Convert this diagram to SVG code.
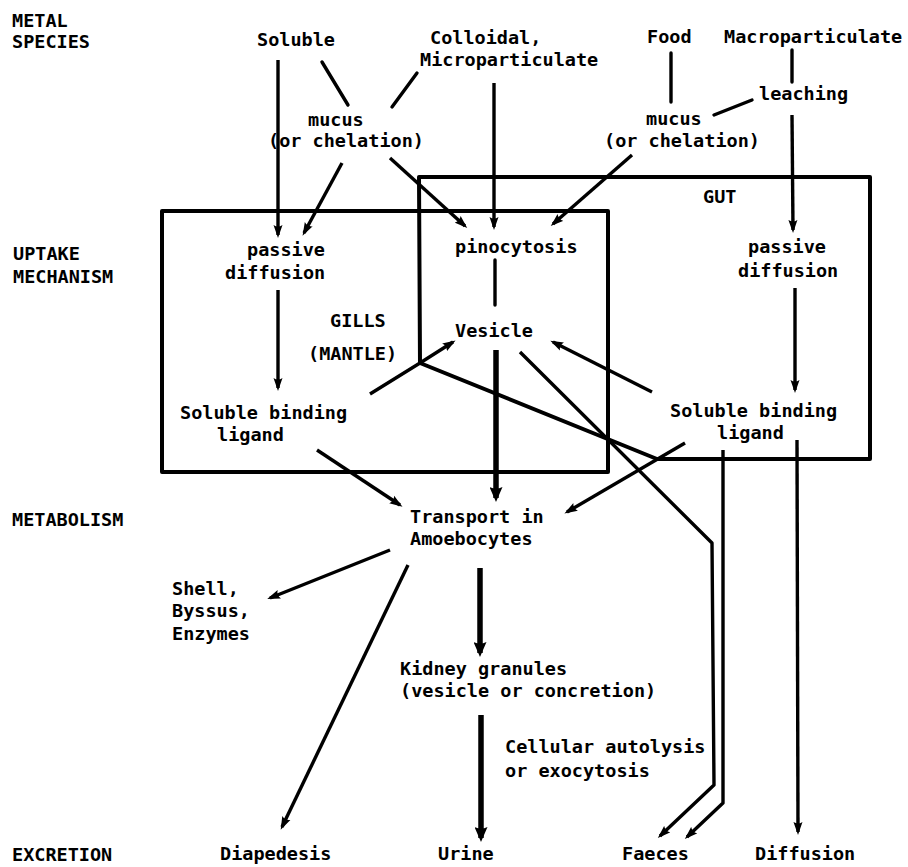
<svg xmlns="http://www.w3.org/2000/svg" width="908" height="867" viewBox="0 0 908 867">
<style>
text{font-family:"DejaVu Sans Mono","Liberation Mono",monospace;font-weight:bold;font-size:18.5px;fill:#000}
.ln{fill:none;stroke:#000;stroke-width:3.4;stroke-linecap:round;stroke-linejoin:round}
.ar{fill:none;stroke:#000;stroke-width:3.4;stroke-linecap:butt;stroke-linejoin:round;marker-end:url(#ah)}
.tk{fill:none;stroke:#000;stroke-width:5.5;stroke-linecap:butt;marker-end:url(#ahb)}
.box{fill:none;stroke:#000;stroke-width:4;stroke-linejoin:round}
</style>
<defs>
<marker id="ah" markerUnits="userSpaceOnUse" markerWidth="13" markerHeight="10" viewBox="0 0 13 10" refX="10" refY="5" orient="auto">
<path d="M0,0.5 L13,5 L0,9.5 Q3,5 0,0.5 z" fill="#000"/>
</marker>
<marker id="ahb" markerUnits="userSpaceOnUse" markerWidth="15" markerHeight="13" viewBox="0 0 15 13" refX="11" refY="6.5" orient="auto">
<path d="M0,0 L15,6.5 L0,13 Q3,6.5 0,0 z" fill="#000"/>
</marker>
</defs>
<rect width="908" height="867" fill="#fff"/>

<g id="row-labels">
<text x="12" y="27">METAL</text>
<text x="12" y="48">SPECIES</text>
<text x="13" y="260">UPTAKE</text>
<text x="13" y="283">MECHANISM</text>
<text x="12" y="526">METABOLISM</text>
<text x="12" y="861">EXCRETION</text>
</g>

<g id="box-gills">
<rect class="box" x="162" y="211" width="446" height="261"/>
<text x="330" y="327">GILLS</text>
<text x="308" y="360">(MANTLE)</text>
</g>
<g id="box-gut">
<path class="box" d="M420,363 L419,177 L870,177 L870,459 L657,459 Z"/>
<text x="703" y="203">GUT</text>
</g>

<g id="n-soluble"><text x="257" y="46">Soluble</text></g>
<g id="n-colloidal"><text x="430" y="44">Colloidal,</text><text x="420" y="66">Microparticulate</text></g>
<g id="n-food"><text x="647" y="43">Food</text></g>
<g id="n-macro"><text x="724" y="43">Macroparticulate</text></g>
<g id="n-mucus1"><text x="308" y="126">mucus</text><text x="268" y="147">(or chelation)</text></g>
<g id="n-leaching"><text x="759" y="100">leaching</text></g>
<g id="n-mucus2"><text x="646" y="125">mucus</text><text x="604" y="147">(or chelation)</text></g>
<g id="n-passive1"><text x="247" y="256">passive</text><text x="225" y="279">diffusion</text></g>
<g id="n-pinocytosis"><text x="455" y="253">pinocytosis</text></g>
<g id="n-passive2"><text x="748" y="253">passive</text><text x="738" y="277">diffusion</text></g>
<g id="n-vesicle"><text x="455" y="337">Vesicle</text></g>
<g id="n-ligand1"><text x="180" y="419">Soluble binding</text><text x="217" y="441">ligand</text></g>
<g id="n-ligand2"><text x="670" y="417">Soluble binding</text><text x="717" y="439">ligand</text></g>
<g id="n-transport"><text x="410" y="523">Transport in</text><text x="410" y="545">Amoebocytes</text></g>
<g id="n-shell"><text x="172" y="595">Shell,</text><text x="172" y="617">Byssus,</text><text x="172" y="640">Enzymes</text></g>
<g id="n-kidney"><text x="400" y="675">Kidney granules</text><text x="400" y="697">(vesicle or concretion)</text></g>
<g id="n-autolysis"><text x="505" y="753">Cellular autolysis</text><text x="505" y="777">or exocytosis</text></g>
<g id="n-diapedesis"><text x="220" y="860">Diapedesis</text></g>
<g id="n-urine"><text x="438" y="860">Urine</text></g>
<g id="n-faeces"><text x="622" y="860">Faeces</text></g>
<g id="n-diffusion"><text x="755" y="860">Diffusion</text></g>

<g id="connectors">
<line class="ar" x1="278" y1="60" x2="278" y2="235"/>
<line class="ln" x1="322" y1="62" x2="348" y2="105"/>
<line class="ln" x1="417" y1="73" x2="392" y2="107"/>
<line class="ar" x1="342" y1="163" x2="304" y2="233"/>
<line class="ar" x1="390" y1="158" x2="465" y2="226"/>
<line class="ar" x1="494" y1="83" x2="494" y2="227"/>
<line class="ln" x1="671" y1="53" x2="671" y2="102"/>
<line class="ln" x1="792" y1="50" x2="792" y2="82"/>
<line class="ln" x1="714" y1="115" x2="752" y2="100"/>
<line class="ar" x1="632" y1="155" x2="553" y2="224"/>
<line class="ar" x1="792" y1="115" x2="793" y2="230"/>
<line class="ar" x1="278" y1="290" x2="278" y2="388"/>
<line class="ln" x1="495" y1="260" x2="495" y2="305"/>
<line class="ar" x1="795" y1="288" x2="795" y2="390"/>
<polyline class="ar" points="370,394 420,363 453,342"/>
<polyline class="ar" points="520,352 712,543 714,785 660,836"/>
<line class="ar" x1="652" y1="392" x2="553" y2="342"/>
<line class="ar" x1="685" y1="443" x2="567" y2="512"/>
<line class="ar" x1="317" y1="450" x2="400" y2="505"/>
<line class="tk" x1="496" y1="350" x2="496" y2="498"/>
<polyline class="ar" points="723,450 723,803 687,837"/>
<line class="ar" x1="797" y1="440" x2="798" y2="832"/>
<line class="ar" x1="390" y1="550" x2="270" y2="598"/>
<line class="ar" x1="408" y1="565" x2="282" y2="827"/>
<line class="tk" x1="480" y1="568" x2="480" y2="653"/>
<line class="tk" x1="481" y1="715" x2="481" y2="838"/>
</g>
</svg>
